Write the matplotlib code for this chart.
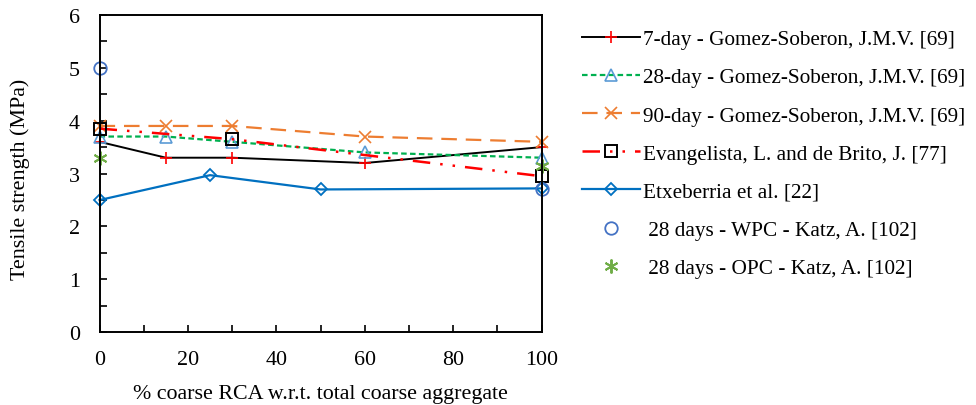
import matplotlib
matplotlib.use("Agg")
import matplotlib.pyplot as plt
from matplotlib.ticker import MultipleLocator

plt.rcParams['font.family'] = ['Liberation Serif', 'DejaVu Serif']

# Tensile strength vs. % coarse RCA
x_gs = [0, 15, 30, 60, 100]
y_7day = [3.6, 3.3, 3.3, 3.2, 3.5]
y_28day = [3.7, 3.7, 3.6, 3.4, 3.3]
y_90day = [3.9, 3.9, 3.9, 3.7, 3.6]

x_evang = [0, 30, 100]
y_evang = [3.85, 3.65, 2.95]

x_etx = [0, 25, 50, 100]
y_etx = [2.5, 2.97, 2.7, 2.72]

x_katz = [0, 100]
y_wpc = [5.0, 2.7]
y_opc = [3.3, 3.15]

labels = [
    "7-day - Gomez-Soberon, J.M.V. [69]",
    "28-day - Gomez-Soberon, J.M.V. [69]",
    "90-day - Gomez-Soberon, J.M.V. [69]",
    "Evangelista, L. and de Brito, J. [77]",
    "Etxeberria et al. [22]",
    " 28 days - WPC - Katz, A. [102]",
    " 28 days - OPC - Katz, A. [102]",
]

fig = plt.figure(figsize=(9.76, 4.06), dpi=100)
ax = fig.add_axes([0.102, 0.179, 0.453, 0.782])

fs = 15.8
fs_leg = 15.3

ax.plot(x_gs, y_7day, color='black', lw=1.4, marker='+', ms=9, mec='#FF0000',
        mew=1.2, label=labels[0])
ax.plot(x_gs, y_28day, color='#00B050', lw=1.6, ls=(0, (2.5, 1.5)), marker='^',
        ms=8, mfc='none', mec='#5B9BD5', mew=1.2, label=labels[1])
ax.plot(x_gs, y_90day, color='#ED7D31', lw=1.6, ls=(0, (7, 4)), marker='x',
        ms=9, mec='#ED7D31', mew=1.2, label=labels[2])
ax.plot(x_evang, y_evang, color='#FF0000', lw=1.8, ls=(0, (7, 4, 1, 4, 1, 4)),
        marker='s', ms=9, mfc='none', mec='black', mew=1.4, label=labels[3])
ax.plot(x_etx, y_etx, color='#0070C0', lw=1.6, marker='D', ms=6.5, mfc='none',
        mec='#0070C0', mew=1.3, label=labels[4])
ax.plot(x_katz, y_wpc, ls='none', marker='o', ms=9, mfc='none', mec='#4472C4',
        mew=1.3, label=labels[5])
ax.plot(x_katz, y_opc, ls='none', marker=(6, 2, 0), ms=10, mec='#70AD47',
        mew=1.4, label=labels[6])

ax.set_xlim(0, 100)
ax.set_ylim(0, 6)
ax.xaxis.set_major_locator(MultipleLocator(20))
ax.xaxis.set_minor_locator(MultipleLocator(10))
ax.yaxis.set_major_locator(MultipleLocator(1))
ax.yaxis.set_minor_locator(MultipleLocator(0.5))
ax.tick_params(which='both', direction='in', length=5, width=1.2,
               labelsize=fs, top=False, right=False)
ax.tick_params(axis='x', pad=13)
ax.tick_params(axis='y', pad=14)
for s in ax.spines.values():
    s.set_linewidth(1.4)
    s.set_clip_on(False)

fig.text(0.3285, 0.028, "% coarse RCA w.r.t. total coarse aggregate",
         fontsize=fs, ha='center', va='center')
fig.text(0.0205, 0.557, "Tensile strength (MPa)", fontsize=fs,
         rotation=90, ha='center', va='center')

for line in ax.lines:
    line.set_clip_on(False)

fig.legend(loc='upper left', bbox_to_anchor=(0.596, 0.925), frameon=False,
           fontsize=fs_leg, handlelength=2.75, handletextpad=0.15,
           labelspacing=0.86, numpoints=1, borderaxespad=0, borderpad=0)

fig.savefig("out.png", dpi=100)
